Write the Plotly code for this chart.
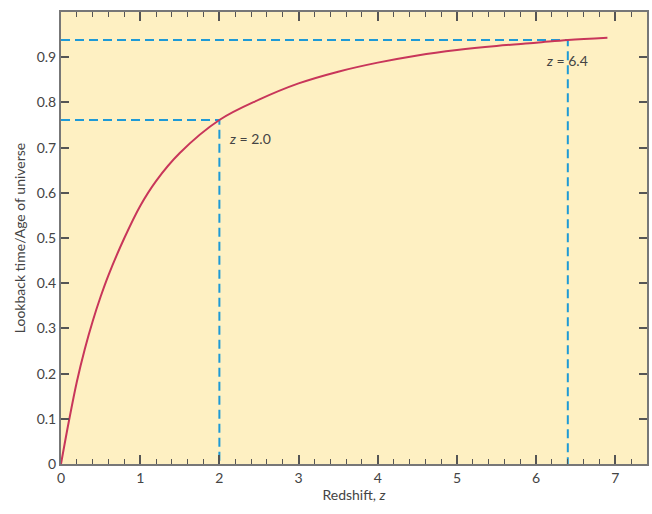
import plotly.graph_objects as go

# Data
redshift = [0, 0.1, 0.2, 0.3, 0.4, 0.5, 0.6, 0.8, 1.0, 1.2, 1.5, 2.0, 2.5, 3.0, 3.5, 4.0, 4.5, 5.0, 5.5, 6.0, 6.4, 6.9]
lookback_frac = [0, 0.095, 0.182, 0.254, 0.316, 0.37, 0.418, 0.5, 0.571, 0.626, 0.688, 0.761, 0.806, 0.842, 0.868, 0.888, 0.904, 0.916, 0.925, 0.932, 0.938, 0.943]

marked_z = [2.0, 6.4]
marked_frac = [0.761, 0.938]
marked_labels = ["2.0", "6.4"]

x_ticks = [0, 1, 2, 3, 4, 5, 6, 7]
y_ticks = [0, 0.1, 0.2, 0.3, 0.4, 0.5, 0.6, 0.7, 0.8, 0.9]

FONT = "Lato, 'Open Sans', sans-serif"
TXT = "#444444"
BLUE = "#1E9AD6"
RED = "#C8365A"

fig = go.Figure()

# dashed guide lines
for zv, fv in zip(marked_z, marked_frac):
    fig.add_trace(go.Scatter(x=[0, zv, zv], y=[fv, fv, 0], mode="lines",
                             line=dict(color=BLUE, width=2, dash="9px,5px"),
                             hoverinfo="skip", showlegend=False))

fig.add_trace(go.Scatter(x=redshift, y=lookback_frac, mode="lines",
                         line=dict(color=RED, width=2, shape="spline", smoothing=1.0),
                         showlegend=False))

annots = []
for zv, fv, lab in zip(marked_z, marked_frac, marked_labels):
    if zv < 3:
        ax, ay = zv + 0.1, fv - 0.04
    else:
        ax, ay = zv - 0.3, fv - 0.045
    annots.append(dict(x=ax, y=ay, xref="x", yref="y", xanchor="left", yanchor="middle",
                       text=f"<i>z</i> = {lab}", showarrow=False,
                       font=dict(family=FONT, size=14, color=TXT)))

fig.update_layout(
    width=652, height=514,
    margin=dict(l=61, r=3, t=12, b=50),
    paper_bgcolor="white",
    plot_bgcolor="#FEF0C2",
    font=dict(family=FONT, size=14, color=TXT),
    annotations=annots,
    xaxis=dict(
        range=[0, 7.4], tickvals=x_ticks, ticktext=[str(v) for v in x_ticks],
        ticks="inside", ticklen=9, tickwidth=1.5, tickcolor="#555",
        showline=True, linecolor="#777", linewidth=2, mirror="ticks",
        showgrid=False, zeroline=False,
        minor=dict(dtick=0.2, ticks="inside", ticklen=5, tickwidth=1.2, tickcolor="#555", showgrid=False),
        title=dict(text="Redshift, <i>z</i>", font=dict(family=FONT, size=14, color=TXT), standoff=4),
        tickfont=dict(family=FONT, size=14, color=TXT),
    ),
    yaxis=dict(
        range=[0, 1.0], tickvals=y_ticks, ticktext=["0"] + [f"{v:.1f}" for v in y_ticks[1:]],
        ticks="inside", ticklen=8, tickwidth=1.5, tickcolor="#555",
        showline=True, linecolor="#777", linewidth=2, mirror="ticks",
        showgrid=False, zeroline=False,
        title=dict(text="Lookback time/Age of universe", font=dict(family=FONT, size=14, color=TXT), standoff=8),
        tickfont=dict(family=FONT, size=14, color=TXT),
    ),
)

fig.write_html("out.html")
